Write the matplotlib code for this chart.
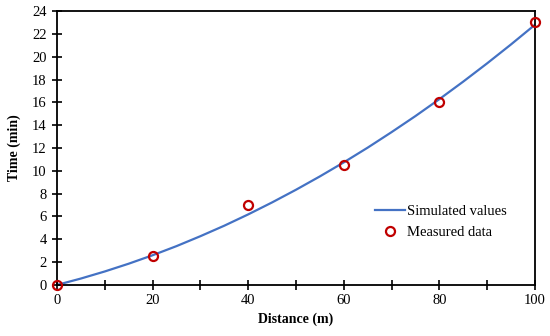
import matplotlib
matplotlib.use("Agg")
import matplotlib.pyplot as plt
from matplotlib.ticker import MultipleLocator

# simulated curve
sim_x = [0, 5, 10, 15, 20, 25, 30, 35, 40, 45, 50, 55, 60, 65, 70, 75, 80, 85, 90, 95, 100]
sim_y = [0, 0.56, 1.18, 1.86, 2.6, 3.4, 4.27, 5.19, 6.18, 7.23, 8.34, 9.51, 10.74,
         12.03, 13.39, 14.8, 16.28, 17.82, 19.42, 21.08, 22.8]

# measured points
meas_x = [0, 20, 40, 60, 80, 100]
meas_y = [0, 2.5, 7, 10.5, 16, 23]

plt.rcParams['font.family'] = ['Liberation Serif', 'DejaVu Serif']

fig = plt.figure(figsize=(5.5, 3.36), dpi=100)
ax = fig.add_axes([0.1036, 0.152, 0.869, 0.815])

ax.plot(sim_x, sim_y, color='#4472C4', linewidth=1.6, label='Simulated values', zorder=2)
ax.plot(meas_x, meas_y, 'o', markerfacecolor='none', markeredgecolor='#C00000',
        markeredgewidth=1.6, markersize=6.5, label='Measured data', clip_on=False, zorder=3)

ax.set_xlim(0, 100)
ax.set_ylim(0, 24)
ax.xaxis.set_major_locator(MultipleLocator(20))
ax.xaxis.set_minor_locator(MultipleLocator(10))
ax.yaxis.set_major_locator(MultipleLocator(2))
ax.tick_params(axis='both', which='both', direction='inout', length=7, width=1.2,
               labelsize=10.5, pad=4)
ax.tick_params(axis='x', which='major', pad=3)
for s in ax.spines.values():
    s.set_linewidth(1.3)

ax.set_xlabel('Distance (m)', fontsize=10, fontweight='bold', labelpad=4)
ax.set_ylabel('Time (min)', fontsize=10, fontweight='bold', labelpad=8)

ax.legend(loc='lower right', bbox_to_anchor=(0.968, 0.12), frameon=False, fontsize=10.5,
          handlelength=2.1, handletextpad=0.1, labelspacing=0.5)

plt.savefig('out.png', dpi=100)
